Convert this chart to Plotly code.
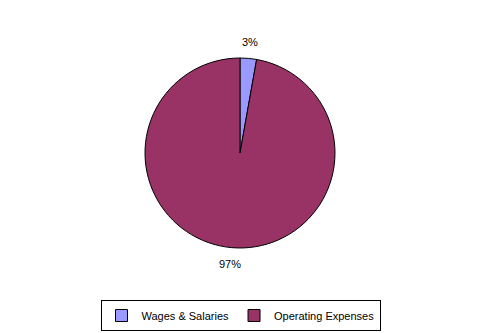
import math
import plotly.graph_objects as go

labels = ["Wages & Salaries", "Operating Expenses"]
values = [2.8, 97.2]
colors = ["#9999FF", "#993366"]

W, H = 481, 333
cx, cy, r = 240, 153, 95

fig = go.Figure(go.Pie(
    labels=labels, values=values, sort=False, direction="clockwise", rotation=0,
    marker=dict(colors=colors, line=dict(color="black", width=1)),
    textinfo="none",
    domain=dict(x=[(cx - r) / W, (cx + r) / W], y=[1 - (cy + r) / H, 1 - (cy - r) / H]),
    hoverinfo="skip",
))

# percentage labels placed outside each slice, derived from the values
total = sum(values)
cum = 0.0
for v in values:
    mid = (cum + v / 2) / total * 2 * math.pi
    cum += v
    R = r + 16
    x = cx + R * math.sin(mid)
    y = cy - R * math.cos(mid)
    fig.add_annotation(x=x / W, y=1 - y / H, xref="paper", yref="paper",
                       text=f"{round(v / total * 100)}%", showarrow=False,
                       xanchor="center", yanchor="middle",
                       font=dict(family="Liberation Sans, Arial", size=11, color="black"))

fig.update_layout(
    width=W, height=H, margin=dict(l=0, r=0, t=0, b=0),
    paper_bgcolor="white", plot_bgcolor="white",
    font=dict(family="Liberation Sans, Arial", size=11, color="black"),
    showlegend=True,
    legend=dict(orientation="h", x=0.5, xanchor="center", y=(H - 300) / H, yanchor="top",
                bordercolor="black", borderwidth=1, bgcolor="white",
                font=dict(size=11), itemwidth=30, traceorder="normal"),
)
fig.write_html("out.html")
